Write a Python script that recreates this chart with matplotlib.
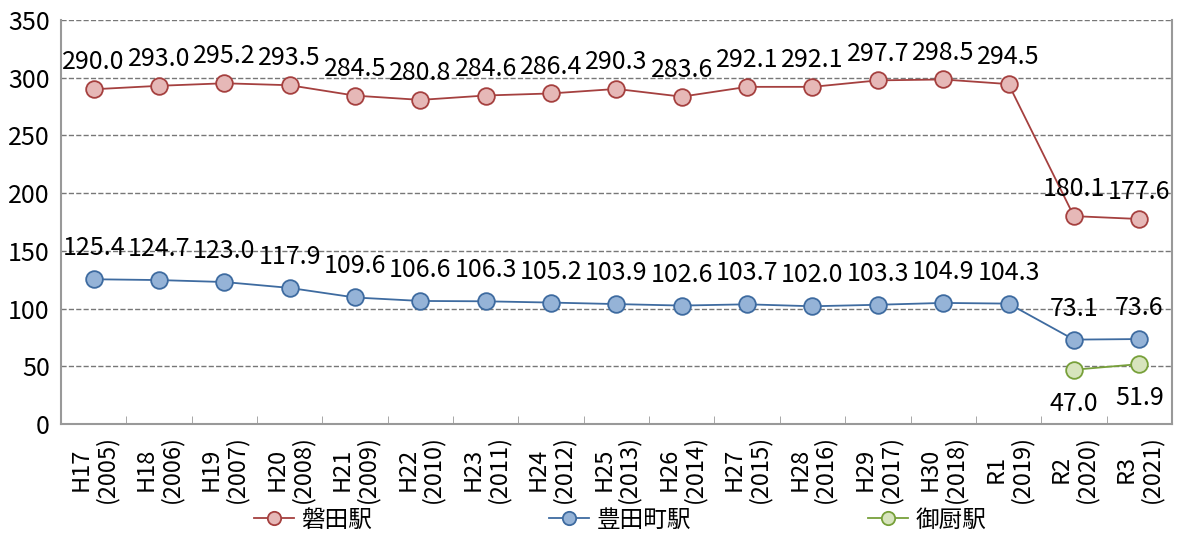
import matplotlib
matplotlib.use('Agg')
from matplotlib import pyplot as plt
import numpy as np

plt.rcParams['font.family'] = ['Noto Sans CJK JP', 'DejaVu Sans']

years = ['H17\n(2005)', 'H18\n(2006)', 'H19\n(2007)', 'H20\n(2008)', 'H21\n(2009)',
         'H22\n(2010)', 'H23\n(2011)', 'H24\n(2012)', 'H25\n(2013)', 'H26\n(2014)',
         'H27\n(2015)', 'H28\n(2016)', 'H29\n(2017)', 'H30\n(2018)', 'R1\n(2019)',
         'R2\n(2020)', 'R3\n(2021)']
iwata = [290.0, 293.0, 295.2, 293.5, 284.5, 280.8, 284.6, 286.4, 290.3, 283.6,
         292.1, 292.1, 297.7, 298.5, 294.5, 180.1, 177.6]
toyodacho = [125.4, 124.7, 123.0, 117.9, 109.6, 106.6, 106.3, 105.2, 103.9, 102.6,
             103.7, 102.0, 103.3, 104.9, 104.3, 73.1, 73.6]
mikuriya_idx = [15, 16]
mikuriya = [47.0, 51.9]

x = np.arange(len(years))

fig = plt.figure(figsize=(11.79, 5.34), dpi=100)
ax = fig.add_axes([0.0517, 0.206, 0.9423, 0.7565])

l1, = ax.plot(x, iwata, '-o', color='#A5403F', mfc='#E6B8B7', mec='#A5403F',
              ms=12, lw=1.3, mew=1.3, label='磐田駅', zorder=3)
l2, = ax.plot(x, toyodacho, '-o', color='#3E6BA0', mfc='#95B3D7', mec='#3E6BA0',
              ms=12, lw=1.3, mew=1.3, label='豊田町駅', zorder=3)
l3, = ax.plot(mikuriya_idx, mikuriya, '-o', color='#77A03A', mfc='#D7E4BD', mec='#77A03A',
              ms=12, lw=1.3, mew=1.3, label='御厨駅', zorder=3)

for xi, v in zip(x, iwata):
    ax.annotate(f'{v:.1f}', (xi, v), xytext=(0, 10), textcoords='offset points',
                ha='center', va='bottom', fontsize=18)
for xi, v in zip(x, toyodacho):
    ax.annotate(f'{v:.1f}', (xi, v), xytext=(0, 13), textcoords='offset points',
                ha='center', va='bottom', fontsize=18)
for xi, v in zip(mikuriya_idx, mikuriya):
    ax.annotate(f'{v:.1f}', (xi, v), xytext=(0, -15), textcoords='offset points',
                ha='center', va='top', fontsize=18)

ax.set_xlim(-0.5, len(years) - 0.5)
ax.set_ylim(0, 350)
ax.set_yticks(range(0, 351, 50))
ax.tick_params(axis='y', length=0, labelsize=18, pad=8)
ax.set_xticks(x)
ax.set_xticklabels(years, rotation=90, fontsize=17, multialignment='center',
                   linespacing=1.1)
ax.tick_params(axis='x', length=0, pad=8)
ax.set_xticks(np.arange(0.5, len(years) - 1, 1), minor=True)
ax.tick_params(axis='x', which='minor', direction='in', length=6, color='#999999')

ax.grid(axis='y', linestyle='--', color='#777777', lw=1)
ax.set_axisbelow(True)
for s in ['left', 'bottom', 'right']:
    ax.spines[s].set_color('#999999')
    ax.spines[s].set_linewidth(1.5)
ax.spines['top'].set_visible(False)

fig.legend(handles=[l1, l2, l3], loc='lower center', bbox_to_anchor=(0.526, -0.035),
           ncol=3, frameon=False, fontsize=17, columnspacing=7.5, handlelength=1.7,
           markerscale=0.8, handletextpad=0.3)

fig.savefig('out.png', dpi=100)
